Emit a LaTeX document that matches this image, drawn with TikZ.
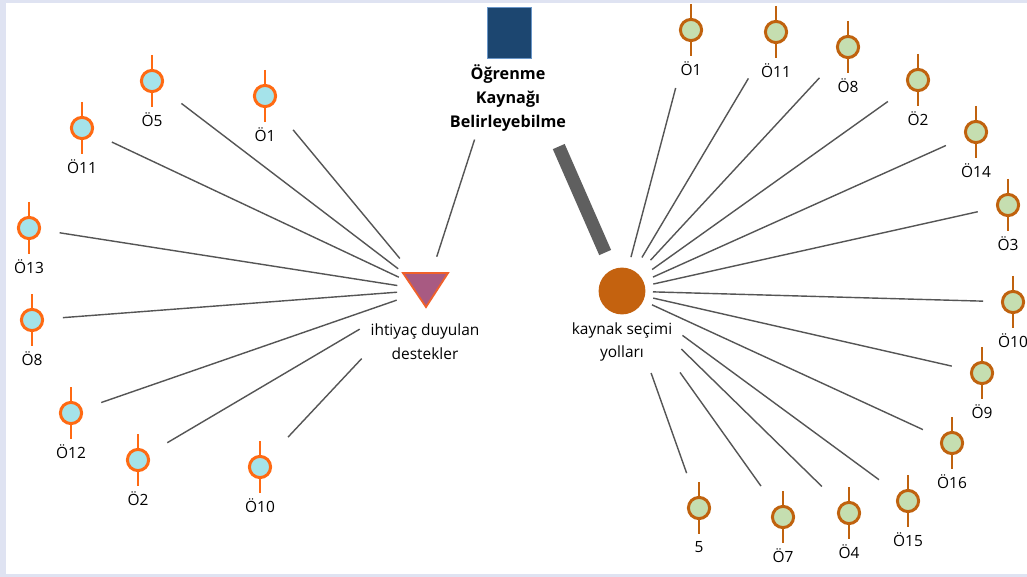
\documentclass[tikz,border=0pt]{standalone}
\usepackage{fontspec}
\setmainfont{Open Sans}
\usetikzlibrary{positioning}

\definecolor{framebg}{HTML}{DFE3F2}
\definecolor{edgegray}{HTML}{555555}
\definecolor{bargray}{HTML}{5F5F5F}
\definecolor{lorange}{HTML}{FF6A13}
\definecolor{lcyan}{HTML}{A5E3EA}
\definecolor{rbrown}{HTML}{C0620E}
\definecolor{rgreen}{HTML}{C5DEB0}
\definecolor{trimauve}{HTML}{A85A82}
\definecolor{triedge}{HTML}{F0602A}
\definecolor{ksorange}{HTML}{C4620F}
\definecolor{lknavy}{HTML}{1C4670}
\definecolor{lkedge}{HTML}{6A96C8}

\begin{document}
\begin{tikzpicture}
	  [x=0.025cm,y=-0.025cm,
	   edge/.style={draw=edgegray,line width=1pt},
	   thickbar/.style={draw=bargray,line width=9.2pt},
	   lsat/.style={circle,draw=lorange,fill=lcyan,line width=2.1pt,minimum size=0.53cm,inner sep=0pt},
	   rsat/.style={circle,draw=rbrown,fill=rgreen,line width=2.1pt,minimum size=0.53cm,inner sep=0pt},
	   tag/.style={font=\fontsize{11}{13}\selectfont,inner sep=0pt},
	   hubtag/.style={align=center,font=\fontsize{11}{17}\selectfont,inner sep=0pt}]
	\useasboundingbox (0,0) rectangle (1027,577);
	\fill[framebg] (0,0) rectangle (1027,577);
	\fill[white] (6,3) rectangle (1027,574);

	% hubs
	\node[rectangle,fill=lknavy,draw=lkedge,line width=0.4pt,minimum width=1.1cm,minimum height=1.27cm] (lk) at (509,33) {};
	\node[hubtag,font=\fontsize{11.5}{17.4}\selectfont\bfseries] (lkt) at (508,98) {Öğrenme\\Kaynağı\\Belirleyebilme};
	\coordinate (ih) at (426,290);
	\filldraw[fill=trimauve,draw=triedge,line width=1.3pt,line join=miter] (403,273) -- (448,273) -- (426,307) -- cycle;
	\node[hubtag] (iht) at (425,342) {ihtiyaç duyulan\\destekler};
	\node[circle,fill=ksorange,minimum size=1.17cm,inner sep=0pt] (ks) at (622,291) {};
	\node[hubtag] (kst) at (622,342) {kaynak seçimi\\yolları};

	% left satellites
	\foreach \n/\x/\y/\t in {la1/265/96/Ö1,la5/152/81/Ö5,la11/82/128/Ö11,la13/29/228/Ö13,
	    la8/32/320/Ö8,la12/71/413/Ö12,la2/138/460/Ö2,la10/260/467/Ö10} {
	  \draw[lorange,line width=2.1pt] (\x,\y-26) -- (\x,\y+26);
	  \node[lsat] (\n) at (\x,\y) {};
	  \node[tag] (\n-t) at (\x,\y+39) {\t};
	}

	% right satellites
	\foreach \n/\x/\y/\t in {rb1/691/30/Ö1,rb11/776/32/Ö11,rb8/848/47/Ö8,rb2/918/80/Ö2,
	    rb14/976/132/Ö14,rb3/1008/205/Ö3,rb10/1013/302/Ö10,rb9/982/373/Ö9,rb16/952/443/Ö16,
	    rb15/908/501/Ö15,rb4/849/513/Ö4,rb7/783/517/Ö7,rb5/699/508/5} {
	  \draw[rbrown,line width=2.1pt] (\x,\y-26) -- (\x,\y+26);
	  \node[rsat] (\n) at (\x,\y) {};
	  \node[tag] (\n-t) at (\x,\y+39) {\t};
	}

	\foreach \from/\p/\q in {la1/44/41,la5/37/35,la11/33/30,la13/31/29,la8/31/29,
	    la12/32/31,la2/34/77,la10/41/94}
	  \draw[edge,shorten <=\p*0.025cm,shorten >=\q*0.025cm] (\from.center) -- (ih);

	\foreach \from/\p/\q in {rb1/60/35,rb11/54/39,rb8/42/42,rb2/37/37,rb14/33/34,rb3/31/32,
	    rb10/30/31,rb9/31/32,rb16/32/33,rb15/36/75,rb4/38/83,rb7/38/100,rb5/37/87}
	  \draw[edge,shorten <=\p*0.025cm,shorten >=\q*0.025cm] (\from.center) -- (ks.center);

	\draw[edge,shorten <=112*0.025cm,shorten >=35*0.025cm] (lk.center) -- (ih);
	\draw[thickbar,shorten <=124*0.025cm,shorten >=42*0.025cm] (lk.center) -- (ks.center);
\end{tikzpicture}
\end{document}
